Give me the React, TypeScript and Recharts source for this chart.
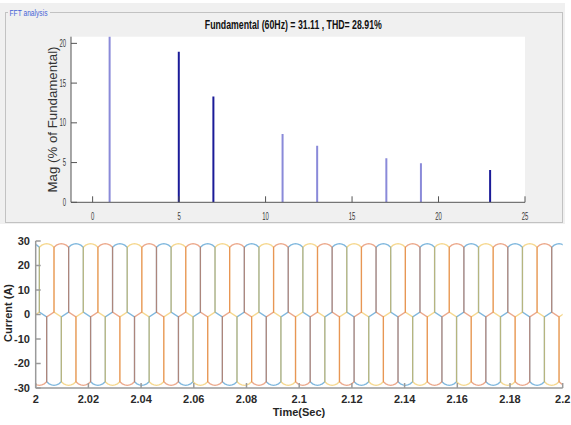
import React from 'react';
import { BarChart, Bar, Cell, XAxis, YAxis, CartesianGrid, LineChart, Line } from 'recharts';

// ---- FFT spectrum of the line current (percent of fundamental) ----
const harmonicOrders = [1, 5, 7, 11, 13, 17, 19, 23];
const harmonicMagnitudes = [100, 18.95, 13.3, 8.6, 7.13, 5.55, 4.92, 4.08];
const harmonicShade = ['light', 'dark', 'dark', 'light', 'light', 'light', 'light', 'dark'];
const fftXTicks = [0, 5, 10, 15, 20, 25];
const fftYTicks = [0, 5, 10, 15, 20];
const fftYMax = 20.84;
const fftTitle = 'Fundamental (60Hz) = 31.11 , THD= 28.91%';

// ---- three-phase line currents ----
const fundamentalHz = 60;
const timeTicks = [2, 2.02, 2.04, 2.06, 2.08, 2.1, 2.12, 2.14, 2.16, 2.18, 2.2];
const currentTicks = [-30, -20, -10, 0, 10, 20, 30];
// one period of a phase current: electrical angle (deg) and current (A)
const cycleAngles = [30, 30, 50, 70, 90, 110, 130, 150, 150, 210, 210, 230, 250, 270, 290, 310, 330, 330, 390];
const cycleCurrents = [1, 27.4, 28.3, 28.7, 28.9, 28.7, 28.3, 27.4, 1, -1, -27.4, -28.3, -28.7, -28.9, -28.7, -28.3, -27.4, -1, 1];
const phaseKeys = ['ia', 'ib', 'ic'];
const phaseAngleAtStart = [120, 0, -120]; // electrical angle of each phase at t = 2 s
const phaseColors = ['#0072BD', '#EDB120', '#D95319'];

const shadeColor: Record<string, string> = { dark: '#1b1b98', light: '#8a8ad9' };

const fftData = harmonicOrders.map((h, i) => ({ h, mag: harmonicMagnitudes[i] }));

function buildPhase(angle0: number) {
  const pts: { t: number; i: number }[] = [];
  for (let k = -1; k <= 13; k++) {
    cycleAngles.forEach((a, j) => {
      if (j === 0 && k > -1) return;
      const t = 2 + (a + 360 * k - angle0) / (360 * fundamentalHz);
      pts.push({ t, i: cycleCurrents[j] });
    });
  }
  return pts;
}
const phaseData = phaseAngleAtStart.map(buildPhase);

const NarrowXTick = (props: any) => {
  const { x, y, payload } = props;
  const s = String(payload.value);
  return (
    <text x={x} y={y + 8} textAnchor="middle" fontSize={10} fill="#3a3a3a"
      textLength={s.length * 3.3} lengthAdjust="spacingAndGlyphs">{s}</text>
  );
};
const NarrowYTick = (props: any) => {
  const { x, y, payload } = props;
  const s = String(payload.value);
  return (
    <text x={x} y={y + 3.6} textAnchor="end" fontSize={10} fill="#3a3a3a"
      textLength={s.length * 3.3} lengthAdjust="spacingAndGlyphs">{s}</text>
  );
};

const font = '"Liberation Sans", Arial, sans-serif';

export default function App() {
  return (
    <div style={{ position: 'absolute', left: 0, top: 0, width: 571, height: 425, background: '#ffffff', fontFamily: font, overflow: 'hidden' }}>
      {/* panel background */}
      <svg width={571} height={425} style={{ position: 'absolute', left: 0, top: 0 }}>
        <rect x={0} y={3} width={565} height={221} fill="#f0f0f0" />
        <rect x={5.5} y={12.5} width={557} height={210} fill="none" stroke="#c2c2c2" strokeWidth={1} />
      </svg>

      <div style={{ position: 'absolute', left: 0, top: 0 }}>
        <BarChart width={571} height={225} data={fftData} margin={{ top: 36.7, right: 46, bottom: 0, left: 0 }} barSize={2}>
          <CartesianGrid horizontal={false} vertical={false} fill="#ffffff" />
          <XAxis dataKey="h" type="number" domain={[-1.25, 25]} allowDataOverflow ticks={fftXTicks} interval={0}
            height={22.7} tickSize={-6} tickMargin={16} stroke="#555555" tick={<NarrowXTick />} />
          <XAxis xAxisId="top" orientation="top" dataKey="h" type="number" domain={[-1.25, 25]} allowDataOverflow
            ticks={fftXTicks} interval={0} height={0} tickSize={-6} tick={false} stroke="#8a8a8a" />
          <YAxis type="number" domain={[0, fftYMax]} allowDataOverflow ticks={fftYTicks} interval={0}
            width={71} tickSize={-6} tickMargin={11} stroke="#555555" tick={<NarrowYTick />} />
          <YAxis yAxisId="right" orientation="right" type="number" domain={[0, fftYMax]} allowDataOverflow
            ticks={fftYTicks} interval={0} width={0} tickSize={-6} tick={false} stroke="#6a6a6a" />
          <Bar dataKey="mag" isAnimationActive={false}>
            {fftData.map((d, i) => (
              <Cell key={d.h} fill={shadeColor[harmonicShade[i]]} />
            ))}
          </Bar>
        </BarChart>
      </div>

      <div style={{ position: 'absolute', left: 0, top: 225 }}>
        <LineChart width={571} height={200} margin={{ top: 16, right: 8.3, bottom: 0, left: 0 }}>
          <XAxis dataKey="t" type="number" domain={[2, 2.2]} allowDataOverflow ticks={timeTicks} interval={0}
            height={37} tickSize={-5} tickMargin={12} stroke="#9a9a9a" strokeWidth={1.5}
            tick={{ fontSize: 11, fontWeight: 'bold', fill: '#2a2a2a', fontFamily: font }}
            tickFormatter={(v: number) => String(v)} />
          <XAxis xAxisId="top" orientation="top" dataKey="t" type="number" domain={[2, 2.2]} allowDataOverflow
            ticks={timeTicks} interval={0} height={0} tickSize={-5} tick={false} stroke="#9a9a9a" strokeWidth={1.5} />
          <YAxis type="number" domain={[-30, 30]} allowDataOverflow ticks={currentTicks} interval={0}
            width={35.7} tickSize={-5} tickMargin={10.7} stroke="#9a9a9a" strokeWidth={1.5}
            tick={{ fontSize: 11, fontWeight: 'bold', fill: '#2a2a2a', fontFamily: font }} />
          <YAxis yAxisId="right" orientation="right" type="number" domain={[-30, 30]} allowDataOverflow
            ticks={currentTicks} interval={0} width={0} tickSize={-5} tick={false} stroke="#9a9a9a" strokeWidth={1.5} />
          {phaseData.map((pts, i) => (
            <Line key={phaseKeys[i]} data={pts} dataKey="i" name={phaseKeys[i]} type="linear" dot={false}
              activeDot={false} stroke={phaseColors[i]} strokeOpacity={0.5} strokeWidth={1.3}
              isAnimationActive={false} />
          ))}
        </LineChart>
      </div>

      {/* titles and axis names */}
      <svg width={571} height={425} style={{ position: 'absolute', left: 0, top: 0, pointerEvents: 'none' }} fontFamily={font}>
        <rect x={8} y={8} width={42} height={10} fill="#f0f0f0" />
        <text x={9.5} y={16} fontSize={9} fill="#4763d6" textLength={38} lengthAdjust="spacingAndGlyphs">FFT analysis</text>
        <text x={293.3} y={29} fontSize={12} fontWeight="bold" fill="#111111" textAnchor="middle"
          textLength={177} lengthAdjust="spacingAndGlyphs">{fftTitle}</text>
        <text x={0} y={0} fontSize={12.5} fill="#333333" textAnchor="middle"
          transform="translate(57,119.5) rotate(-90)" textLength={146} lengthAdjust="spacingAndGlyphs">Mag (% of Fundamental)</text>
        <text x={0} y={0} fontSize={11} fontWeight="bold" fill="#262626" textAnchor="middle"
          transform="translate(12,313) rotate(-90)">Current (A)</text>
        <text x={299} y={416} fontSize={11} fontWeight="bold" fill="#262626" textAnchor="middle">Time(Sec)</text>
      </svg>
    </div>
  );
}
